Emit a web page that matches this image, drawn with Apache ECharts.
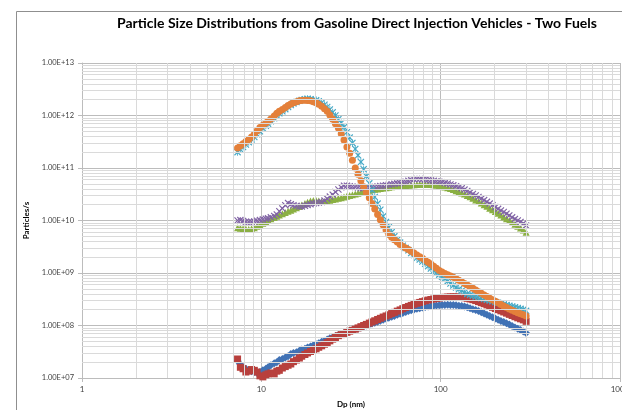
<!DOCTYPE html>
<html><head><meta charset="utf-8">
<script src="https://cdn.jsdelivr.net/npm/echarts@6/dist/echarts.min.js"></script>
<style>html,body{margin:0;padding:0;background:#fff}#c{width:622px;height:410px}</style>
</head><body><div id="c"></div>
<script>
const TITLE = 'Particle Size Distributions from Gasoline Direct Injection Vehicles - Two Fuels';
const X_NAME = 'Dp (nm)';
const Y_NAME = 'Particles/s';
const DP = [7.37, 7.64, 7.91, 8.2, 8.51, 8.82, 9.14, 9.47, 9.82, 10.2,
  10.6, 10.9, 11.3, 11.8, 12.2, 12.6, 13.1, 13.6, 14.1, 14.6,
  15.1, 15.7, 16.3, 16.8, 17.5, 18.1, 18.8, 19.5, 20.2, 20.9,
  21.7, 22.5, 23.3, 24.1, 25.0, 25.9, 26.9, 27.9, 28.9, 30.0,
  31.1, 32.2, 33.4, 34.6, 35.9, 37.2, 38.5, 40.0, 41.4, 42.9,
  44.5, 46.1, 47.8, 49.6, 51.4, 53.3, 55.2, 57.3, 59.4, 61.5,
  63.8, 66.1, 68.5, 71.0, 73.7, 76.4, 79.1, 82.0, 85.1, 88.2,
  91.4, 94.7, 98.2, 101.8, 105.5, 109.4, 113.4, 117.6, 121.9, 126.3,
  131.0, 135.8, 140.7, 145.9, 151.2, 156.8, 162.5, 168.5, 174.7, 181.1,
  187.7, 194.6, 201.7, 209.1, 216.7, 224.7, 232.9, 241.4, 250.3, 259.5,
  269.0, 278.8, 289.0, 299.6];
const BLUE = [2.1e7, 1.8e7, 1.6e7, 1.5e7, 1.4e7, 1.35e7, 1.3e7, 1.25e7, 1.3e7, 1.4e7,
  1.5e7, 1.6e7, 1.75e7, 1.9e7, 2.0e7, 2.2e7, 2.3e7, 2.45e7, 2.6e7, 2.85e7,
  3.0e7, 3.1e7, 3.3e7, 3.5e7, 3.6e7, 3.8e7, 4.0e7, 4.2e7, 4.4e7, 4.6e7,
  4.9e7, 5.1e7, 5.4e7, 5.7e7, 6.0e7, 6.3e7, 6.6e7, 6.9e7, 7.2e7, 7.5e7,
  7.9e7, 8.2e7, 8.5e7, 8.8e7, 9.2e7, 9.6e7, 1.0e8, 1.04e8, 1.09e8, 1.13e8,
  1.18e8, 1.23e8, 1.28e8, 1.34e8, 1.4e8, 1.46e8, 1.52e8, 1.6e8, 1.67e8, 1.73e8,
  1.8e8, 1.88e8, 1.95e8, 2.02e8, 2.08e8, 2.14e8, 2.2e8, 2.25e8, 2.3e8, 2.34e8,
  2.38e8, 2.41e8, 2.44e8, 2.46e8, 2.47e8, 2.48e8, 2.47e8, 2.45e8, 2.43e8, 2.39e8,
  2.35e8, 2.29e8, 2.22e8, 2.14e8, 2.05e8, 1.97e8, 1.88e8, 1.79e8, 1.7e8, 1.61e8,
  1.52e8, 1.44e8, 1.36e8, 1.29e8, 1.22e8, 1.16e8, 1.1e8, 1.04e8, 9.8e7, 9.2e7,
  8.7e7, 8.2e7, 7.7e7, 7.2e7];
const RED = [2.3e7, 1.6e7, 1.5e7, 1.3e7, 1.35e7, 1.45e7, 1.4e7, 1.3e7, 1.1e7, 1.05e7,
  1.15e7, 1.2e7, 1.25e7, 1.2e7, 1.35e7, 1.4e7, 1.55e7, 1.65e7, 1.75e7, 1.85e7,
  2.05e7, 2.2e7, 2.4e7, 2.6e7, 2.8e7, 3.0e7, 3.2e7, 3.4e7, 3.6e7, 3.85e7,
  4.1e7, 4.4e7, 4.7e7, 5.1e7, 5.5e7, 5.9e7, 6.4e7, 6.7e7, 7.0e7, 7.4e7,
  7.8e7, 8.1e7, 8.5e7, 9.0e7, 9.5e7, 1.0e8, 1.05e8, 1.11e8, 1.17e8, 1.23e8,
  1.3e8, 1.37e8, 1.45e8, 1.52e8, 1.6e8, 1.69e8, 1.78e8, 1.88e8, 1.98e8, 2.09e8,
  2.2e8, 2.31e8, 2.42e8, 2.54e8, 2.65e8, 2.75e8, 2.85e8, 2.95e8, 3.05e8, 3.13e8,
  3.2e8, 3.28e8, 3.35e8, 3.4e8, 3.45e8, 3.48e8, 3.5e8, 3.51e8, 3.5e8, 3.48e8,
  3.45e8, 3.38e8, 3.3e8, 3.2e8, 3.1e8, 2.98e8, 2.85e8, 2.72e8, 2.6e8, 2.47e8,
  2.35e8, 2.22e8, 2.1e8, 2.0e8, 1.9e8, 1.81e8, 1.72e8, 1.63e8, 1.55e8, 1.47e8,
  1.4e8, 1.34e8, 1.28e8, 1.2e8];
const GREEN = [7.3e9, 7.1e9, 7.0e9, 6.9e9, 6.8e9, 7.0e9, 7.3e9, 7.8e9, 8.3e9, 8.9e9,
  9.5e9, 1.02e10, 1.08e10, 1.14e10, 1.2e10, 1.27e10, 1.35e10, 1.42e10, 1.5e10, 1.57e10,
  1.65e10, 1.75e10, 1.85e10, 1.97e10, 2.1e10, 2.22e10, 2.35e10, 2.4e10, 2.4e10, 2.35e10,
  2.3e10, 2.3e10, 2.35e10, 2.42e10, 2.5e10, 2.57e10, 2.65e10, 2.72e10, 2.8e10, 2.9e10,
  3.0e10, 3.1e10, 3.2e10, 3.32e10, 3.45e10, 3.55e10, 3.65e10, 3.75e10, 3.85e10, 3.92e10,
  4.0e10, 4.08e10, 4.15e10, 4.22e10, 4.3e10, 4.38e10, 4.45e10, 4.5e10, 4.55e10, 4.6e10,
  4.65e10, 4.7e10, 4.75e10, 4.8e10, 4.85e10, 4.88e10, 4.9e10, 4.9e10, 4.9e10, 4.85e10,
  4.8e10, 4.7e10, 4.6e10, 4.48e10, 4.35e10, 4.2e10, 4.05e10, 3.88e10, 3.7e10, 3.52e10,
  3.35e10, 3.18e10, 3.0e10, 2.82e10, 2.65e10, 2.47e10, 2.3e10, 2.15e10, 2.0e10, 1.86e10,
  1.72e10, 1.6e10, 1.48e10, 1.37e10, 1.27e10, 1.17e10, 1.08e10, 1.0e10, 9.2e9, 8.5e9,
  7.8e9, 7.2e9, 6.6e9, 6.0e9];
const PURPLE = [1.0e10, 1.02e10, 9.8e9, 9.5e9, 9.4e9, 9.4e9, 9.6e9, 9.9e9, 1.02e10, 1.05e10,
  1.08e10, 1.1e10, 1.15e10, 1.22e10, 1.3e10, 1.5e10, 1.7e10, 1.95e10, 2.15e10, 2.05e10,
  1.95e10, 1.9e10, 1.85e10, 1.85e10, 1.9e10, 1.98e10, 2.05e10, 2.1e10, 2.15e10, 2.2e10,
  2.25e10, 2.4e10, 2.6e10, 2.85e10, 3.1e10, 3.5e10, 3.9e10, 4.3e10, 4.6e10, 4.6e10,
  4.5e10, 4.42e10, 4.35e10, 4.25e10, 4.15e10, 4.12e10, 4.15e10, 4.22e10, 4.3e10, 4.38e10,
  4.45e10, 4.52e10, 4.6e10, 4.7e10, 4.8e10, 4.9e10, 5.0e10, 5.1e10, 5.2e10, 5.35e10,
  5.5e10, 5.7e10, 5.9e10, 6.1e10, 6.2e10, 6.2e10, 6.1e10, 6.0e10, 5.9e10, 5.8e10,
  5.7e10, 5.6e10, 5.5e10, 5.35e10, 5.2e10, 5.05e10, 4.85e10, 4.68e10, 4.5e10, 4.3e10,
  4.1e10, 3.88e10, 3.65e10, 3.42e10, 3.2e10, 3.0e10, 2.8e10, 2.62e10, 2.45e10, 2.27e10,
  2.1e10, 1.95e10, 1.8e10, 1.67e10, 1.55e10, 1.45e10, 1.35e10, 1.25e10, 1.15e10, 1.07e10,
  1.0e10, 9.4e9, 8.8e9, 8.0e9];
const CYAN = [2.0e11, 2.25e11, 2.5e11, 2.8e11, 3.1e11, 3.5e11, 3.9e11, 4.4e11, 5.0e11, 5.7e11,
  6.4e11, 7.0e11, 7.8e11, 8.9e11, 1.0e12, 1.1e12, 1.2e12, 1.32e12, 1.45e12, 1.58e12,
  1.7e12, 1.8e12, 1.9e12, 1.98e12, 2.05e12, 2.08e12, 2.05e12, 2.0e12, 1.95e12, 1.86e12,
  1.75e12, 1.6e12, 1.45e12, 1.3e12, 1.15e12, 1.0e12, 8.5e11, 7.2e11, 6.0e11, 4.8e11,
  3.8e11, 3.0e11, 2.3e11, 1.75e11, 1.3e11, 9.5e10, 7.0e10, 5.1e10, 3.8e10, 2.8e10,
  2.1e10, 1.6e10, 1.2e10, 9.4e9, 7.4e9, 6.0e9, 5.0e9, 4.3e9, 3.8e9, 3.3e9,
  3.0e9, 2.7e9, 2.4e9, 2.2e9, 1.95e9, 1.8e9, 1.65e9, 1.5e9, 1.35e9, 1.22e9,
  1.1e9, 1.0e9, 9.3e8, 8.5e8, 7.8e8, 7.0e8, 6.3e8, 5.8e8, 5.3e8, 4.9e8,
  4.6e8, 4.3e8, 4.0e8, 3.85e8, 3.7e8, 3.55e8, 3.4e8, 3.3e8, 3.2e8, 3.1e8,
  3.0e8, 2.9e8, 2.8e8, 2.7e8, 2.6e8, 2.52e8, 2.45e8, 2.38e8, 2.3e8, 2.22e8,
  2.15e8, 2.08e8, 2.0e8, 1.9e8];
const ORANGE = [2.4e11, 2.65e11, 2.9e11, 3.2e11, 3.5e11, 3.9e11, 4.4e11, 5.1e11, 5.9e11, 6.5e11,
  7.2e11, 7.8e11, 8.6e11, 9.8e11, 1.1e12, 1.2e12, 1.3e12, 1.42e12, 1.55e12, 1.65e12,
  1.75e12, 1.83e12, 1.9e12, 1.93e12, 1.95e12, 1.94e12, 1.9e12, 1.83e12, 1.75e12, 1.63e12,
  1.5e12, 1.35e12, 1.2e12, 1.02e12, 8.5e11, 7.0e11, 5.8e11, 4.5e11, 3.4e11, 2.5e11,
  1.9e11, 1.4e11, 1.0e11, 7.6e10, 5.7e10, 4.4e10, 3.4e10, 2.7e10, 2.1e10, 1.65e10,
  1.3e10, 1.03e10, 8.2e9, 6.6e9, 5.4e9, 4.8e9, 4.3e9, 3.9e9, 3.5e9, 3.2e9,
  3.0e9, 2.8e9, 2.6e9, 2.4e9, 2.2e9, 2.05e9, 1.9e9, 1.75e9, 1.6e9, 1.48e9,
  1.35e9, 1.23e9, 1.12e9, 1.05e9, 9.8e8, 9.3e8, 8.8e8, 8.3e8, 7.8e8, 7.3e8,
  6.8e8, 6.3e8, 5.9e8, 5.5e8, 5.1e8, 4.75e8, 4.4e8, 4.1e8, 3.8e8, 3.55e8,
  3.3e8, 3.1e8, 2.9e8, 2.7e8, 2.5e8, 2.35e8, 2.2e8, 2.07e8, 1.95e8, 1.85e8,
  1.75e8, 1.67e8, 1.6e8, 1.52e8];
const X_MIN = 1, X_MAX = 1000, Y_MIN = 1e7, Y_MAX = 1e13;

const XMARK = 'path://M0,1.2L1.2,0L5,3.8L8.8,0L10,1.2L6.2,5L10,8.8L8.8,10L5,6.2L1.2,10L0,8.8L3.8,5Z';
const STAR = 'path://M0,1.2L1.2,0L5,3.8L8.8,0L10,1.2L6.2,5L10,8.8L8.8,10L5,6.2L1.2,10L0,8.8L3.8,5Z M4.4,0L5.6,0L5.6,10L4.4,10Z';

function pairs(arr){ return DP.map((d,i)=>[d, arr[i]]); }

// minor log gridlines (2..9 in each decade)
const minorX = [], minorY = [];
for (let e = 0; e < 3; e++) for (let k = 2; k <= 9; k++) minorX.push({xAxis: k * Math.pow(10, e)});
for (let e = 7; e < 13; e++) for (let k = 2; k <= 9; k++) minorY.push({yAxis: k * Math.pow(10, e)});

const FONT = 'Lato, "Noto Sans", sans-serif';
const chart = echarts.init(document.getElementById('c'), null, {renderer: 'canvas'});
const mk = (name, data, color, symbol, size) => ({
  name, type: 'scatter', data: pairs(data), symbol, symbolSize: size,
  itemStyle: {color, opacity: 1}, z: 3, animation: false, large: false
});
chart.setOption({
  animation: false,
  backgroundColor: '#ffffff',
  graphic: [
    {type: 'rect', shape: {x: 16.5, y: 11.5, width: 800, height: 600},
      style: {fill: 'none', stroke: '#8f8f8f', lineWidth: 1}, z: -1, silent: true},
    {type: 'text', x: 357, y: 23, silent: true,
      style: {text: TITLE, align: 'center', verticalAlign: 'middle',
        font: 'bold 14px ' + FONT, fill: '#000'}}
  ],
  grid: {left: 82, right: 2, top: 63, bottom: 32, containLabel: false, outerBoundsMode: 'none'},
  xAxis: {
    type: 'log', logBase: 10, min: X_MIN, max: X_MAX,
    name: X_NAME, nameLocation: 'middle', nameGap: 22,
    nameTextStyle: {fontFamily: FONT, fontWeight: 'bold', fontSize: 8, color: '#000'},
    axisLine: {show: true, lineStyle: {color: '#bcbcbc'}},
    axisTick: {show: true, length: 4, lineStyle: {color: '#bcbcbc'}},
    axisLabel: {fontFamily: FONT, fontSize: 8, color: '#404040', margin: 7,
      showMaxLabel: true, showMinLabel: true, alignMaxLabel: 'center', hideOverlap: false,
      formatter: v => String(Math.round(v))},
    splitLine: {show: true, lineStyle: {color: '#bcbcbc', width: 1}}
  },
  yAxis: {
    type: 'log', logBase: 10, min: Y_MIN, max: Y_MAX,
    name: Y_NAME, nameLocation: 'middle', nameGap: 42, nameRotate: 90,
    nameTextStyle: {fontFamily: FONT, fontWeight: 'bold', fontSize: 8, color: '#000'},
    axisLine: {show: true, lineStyle: {color: '#bcbcbc'}},
    axisTick: {show: true, length: 4, lineStyle: {color: '#bcbcbc'}},
    axisLabel: {fontFamily: FONT, fontSize: 7.5, color: '#404040', margin: 8,
      formatter: v => { const e = Math.round(Math.log10(v)); return '1.00E+' + (e < 10 ? '0' + e : e); }},
    splitLine: {show: true, lineStyle: {color: '#bcbcbc', width: 1}}
  },
  series: [
    {type: 'line', data: [], z: 1, silent: true, animation: false,
      markLine: {silent: true, symbol: ['none', 'none'], label: {show: false}, animation: false,
        lineStyle: {type: 'solid', color: '#dadada', width: 1},
        emphasis: {disabled: true}, data: minorX.concat(minorY)}},
    mk('Blue', BLUE, '#4172b5', 'diamond', 8),
    mk('Red', RED, '#b8403d', 'rect', 7),
    mk('Green', GREEN, '#8bb043', 'triangle', 7),
    mk('Purple', PURPLE, '#8063a5', XMARK, 7),
    mk('Cyan', CYAN, '#45a9c6', STAR, 7),
    mk('Orange', ORANGE, '#e4803a', 'circle', 7)
  ]
});
</script></body></html>
